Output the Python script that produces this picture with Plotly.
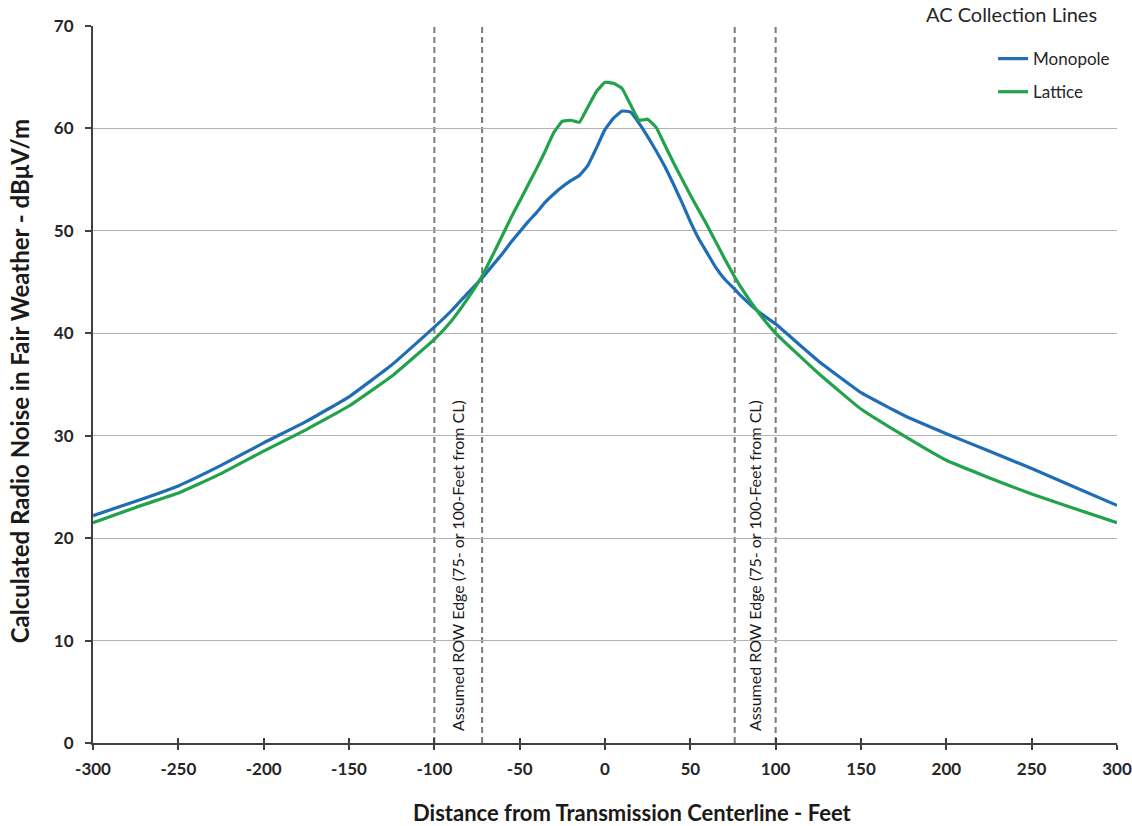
import plotly.graph_objects as go

# Distance from the transmission centerline (feet)
distance_ft = [-300, -275, -250, -225, -200, -175, -150, -125, -100, -90, -80, -72,
               -65, -60, -55, -50, -45, -40, -35, -30, -25, -20, -15, -10, -5, 0,
               5, 10, 15, 20, 25, 30, 35, 40, 45, 50, 55, 60, 65, 70, 76, 80, 90,
               100, 125, 150, 175, 200, 225, 250, 275, 300]

# Calculated fair-weather radio noise (dBuV/m)
monopole = [22.2, 23.6, 25.1, 27.1, 29.3, 31.4, 33.8, 36.9, 40.6, 42.2, 44.0, 45.4,
            46.8, 47.8, 48.9, 49.9, 50.9, 51.8, 52.8, 53.6, 54.3, 54.9, 55.4, 56.4, 58.1, 59.9,
            61.0, 61.7, 61.6, 60.5, 59.2, 57.8, 56.3, 54.6, 52.8, 50.9, 49.2, 47.8, 46.4, 45.3,
            44.3, 43.6, 42.1, 40.9, 37.3, 34.2, 32.0, 30.2, 28.5, 26.8, 25.0, 23.2]
lattice = [21.5, 23.0, 24.4, 26.3, 28.5, 30.6, 32.9, 35.8, 39.4, 41.2, 43.5, 45.6,
           47.9, 49.6, 51.3, 52.9, 54.5, 56.1, 57.8, 59.6, 60.7, 60.8, 60.6, 62.1, 63.6, 64.5,
           64.4, 63.9, 62.3, 60.8, 60.9, 60.1, 58.4, 56.7, 55.1, 53.5, 52.0, 50.5, 48.9, 47.3,
           45.5, 44.4, 42.0, 40.0, 36.1, 32.6, 30.0, 27.6, 25.9, 24.3, 22.9, 21.5]

# Assumed right-of-way edges (feet from centerline)
row_edges = [-100, -72, 76, 100]
row_label_x = [-86, 88]
row_label = "Assumed ROW Edge (75- or 100-Feet from CL)"

x_ticks = list(range(-300, 301, 50))
x_ticktext = [str(v) for v in x_ticks]
y_ticks = list(range(0, 71, 10))

BLUE = "#1f6db5"
GREEN = "#22a24a"
AXIS = "#404040"
FONT = "Lato"

# Plot-area geometry in pixels, used to place the paper-referenced labels
PLOT_L, PLOT_W, PLOT_B, PLOT_H = 93, 1024, 742.7, 717


def px_x(px):
    return (px - PLOT_L) / PLOT_W


def px_y(py):
    return (PLOT_B - py) / PLOT_H


fig = go.Figure()

fig.add_trace(go.Scatter(x=distance_ft, y=monopole, mode="lines", name="Monopole",
                         legendgroup="mono",
                         line=dict(color=BLUE, width=3.2, shape="spline", smoothing=0.3)))
fig.add_trace(go.Scatter(x=distance_ft, y=lattice, mode="lines", name="Lattice",
                         legendgroup="lat",
                         line=dict(color=GREEN, width=3.2, shape="spline", smoothing=0.3)))

# Inside half of the crossing x ticks
fig.add_trace(go.Scatter(x=[0], y=[0], xaxis="x2", mode="markers",
                         marker=dict(opacity=0), showlegend=False, hoverinfo="skip"))

for xv in row_edges:
    fig.add_vline(x=xv, line=dict(color="#7a7a7a", width=2, dash="6px,4px"), layer="below")

for xv in row_label_x:
    fig.add_annotation(x=xv, y=17.3, xref="x", yref="y", text=row_label, textangle=-90,
                       showarrow=False, font=dict(family=FONT, size=16, color="#1a1a1a"))

fig.add_annotation(x=px_x(1011), y=px_y(14), xref="paper", yref="paper",
                   xanchor="center", yanchor="middle",
                   text="AC Collection Lines", showarrow=False,
                   font=dict(family=FONT, size=20, color="#262626"))

fig.add_annotation(x=px_x(632), y=px_y(812), xref="paper", yref="paper",
                   xanchor="center", yanchor="middle",
                   text="Distance from Transmission Centerline - Feet", showarrow=False,
                   font=dict(family=FONT, size=22, color="#1a1a1a", weight="bold"))

fig.add_annotation(x=px_x(19), y=px_y(381), xref="paper", yref="paper",
                   xanchor="center", yanchor="middle", textangle=-90,
                   text="Calculated Radio Noise in Fair Weather - dB\u03bcV/m", showarrow=False,
                   font=dict(family=FONT, size=24, color="#1a1a1a", weight="bold"))

fig.update_layout(
    width=1132, height=826,
    margin=dict(l=93, r=15, t=26, b=83, autoexpand=False),
    paper_bgcolor="white", plot_bgcolor="white",
    font=dict(family=FONT, color="#262626"),
    showlegend=True,
    legend=dict(x=0.879, y=0.979, xanchor="left", yanchor="top", traceorder="grouped",
                bgcolor="rgba(0,0,0,0)", font=dict(family=FONT, size=17, color="#262626"),
                itemwidth=30, tracegroupgap=8),
    xaxis=dict(range=[-300, 300], tickvals=x_ticks, ticktext=x_ticktext, ticks="outside",
               ticklen=5, tickwidth=2, tickcolor=AXIS, showline=True, linecolor=AXIS,
               linewidth=2, showgrid=False, zeroline=False, ticklabelstandoff=5,
               tickfont=dict(family=FONT, size=17, color="#262626", weight="bold")),
    xaxis2=dict(range=[-300, 300], overlaying="x", side="bottom", anchor="y",
                tickvals=x_ticks, ticks="inside", ticklen=5, tickwidth=2, tickcolor=AXIS,
                showticklabels=False, showgrid=False, zeroline=False, showline=False),
    yaxis=dict(range=[0, 70], tickvals=y_ticks, ticks="outside", ticklen=6, tickwidth=2,
               tickcolor=AXIS, showline=True, linecolor=AXIS, linewidth=2,
               showgrid=True, gridcolor="#b3b3b3", gridwidth=1, zeroline=False,
               ticklabelstandoff=8,
               tickfont=dict(family=FONT, size=17, color="#262626", weight="bold")),
)

fig.write_html("out.html")
